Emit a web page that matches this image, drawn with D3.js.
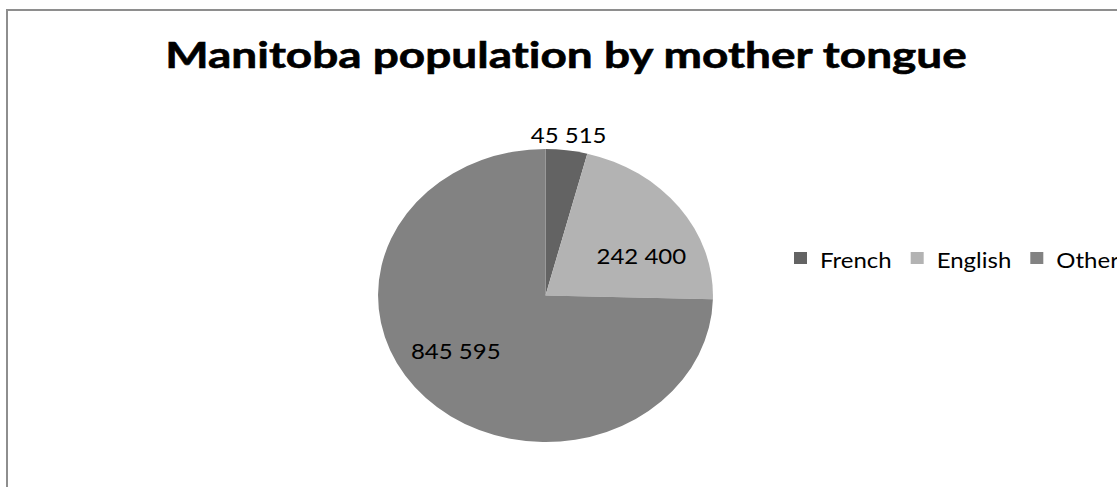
<!DOCTYPE html>
<html>
<head>
<meta charset="utf-8">
<script src="https://cdn.jsdelivr.net/npm/d3@7"></script>
<style>
  html, body { margin: 0; padding: 0; background: #ffffff; overflow: hidden; }
  text {
    font-family: Lato, Carlito, Calibri, "Open Sans", sans-serif;
    fill: #000;
    font-variant-ligatures: none;
    font-feature-settings: "liga" 0, "clig" 0;
  }
</style>
</head>
<body>
<svg id="chart" width="1117" height="487"></svg>
<script>
// Mother tongue counts for Manitoba
const categories = ["French", "English", "Other"];
const population = [45515, 242400, 845595];
const sliceColors = ["#636363", "#b3b3b3", "#828282"];
const titleText = "Manitoba population by mother tongue";

// Where each value label sits: fraction along its slice's sweep, and radius factor
const labelAlong = [0.5, 0.66, 0.532];
const labelRadius = [1.1, 0.63, 0.66];

const W = 1117, H = 487;
const svg = d3.select("#chart");

// Horizontal stretch of the whole drawing
const sx = 1.143;

// Chart frame
svg.append("rect")
  .attr("x", 7).attr("y", 10)
  .attr("width", 1112).attr("height", 520)
  .attr("fill", "none")
  .attr("stroke", "#8e8e8e")
  .attr("stroke-width", 2);

// Title, fitted to its line
const title = svg.append("text")
  .attr("text-anchor", "middle")
  .attr("font-weight", "bold")
  .attr("font-size", 36)
  .attr("stroke", "#000")
  .attr("stroke-width", 0.6)
  .text(titleText);
{
  const len = title.node().getComputedTextLength();
  const k = 802 / len;
  title.attr("transform", `translate(566,68) scale(${k},1)`);
}

// Pie
const cx = 545.5, cy = 295.5, R = 146.5;
const pie = d3.pie().sort(null).value(d => d);
const arcs = pie(population);
const arc = d3.arc().innerRadius(0).outerRadius(R);

const pieG = svg.append("g")
  .attr("transform", `translate(${cx},${cy}) scale(${sx},1)`);

pieG.selectAll("path")
  .data(arcs)
  .join("path")
  .attr("d", arc)
  .attr("fill", (d, i) => sliceColors[i]);

// Value labels with space as thousands separator
const fmt = d3.formatLocale({ decimal: ",", thousands: " ", grouping: [3], currency: ["", ""] }).format(",d");

arcs.forEach((d, i) => {
  const a = d.startAngle + (d.endAngle - d.startAngle) * labelAlong[i];
  const r = R * labelRadius[i];
  const x = cx + Math.sin(a) * r * sx;
  const y = cy - Math.cos(a) * r;
  svg.append("text")
    .attr("text-anchor", "middle")
    .attr("font-size", 21)
    .attr("dy", "0.36em")
    .attr("transform", `translate(${x},${y}) scale(${sx},1)`)
    .text(fmt(d.data));
});

// Legend
const legendG = svg.append("g");
let lx = 794;
const swW = 13, swH = 12, swY = 252, textBase = 268;
categories.forEach((c, i) => {
  legendG.append("rect")
    .attr("x", lx).attr("y", swY)
    .attr("width", swW).attr("height", swH)
    .attr("fill", sliceColors[i]);
  const t = legendG.append("text")
    .attr("font-size", 21)
    .attr("transform", `translate(${lx + 26},${textBase}) scale(${sx},1)`)
    .text(c);
  const tw = t.node().getComputedTextLength() * sx;
  lx += 26 + tw + 19;
});
</script>
</body>
</html>
